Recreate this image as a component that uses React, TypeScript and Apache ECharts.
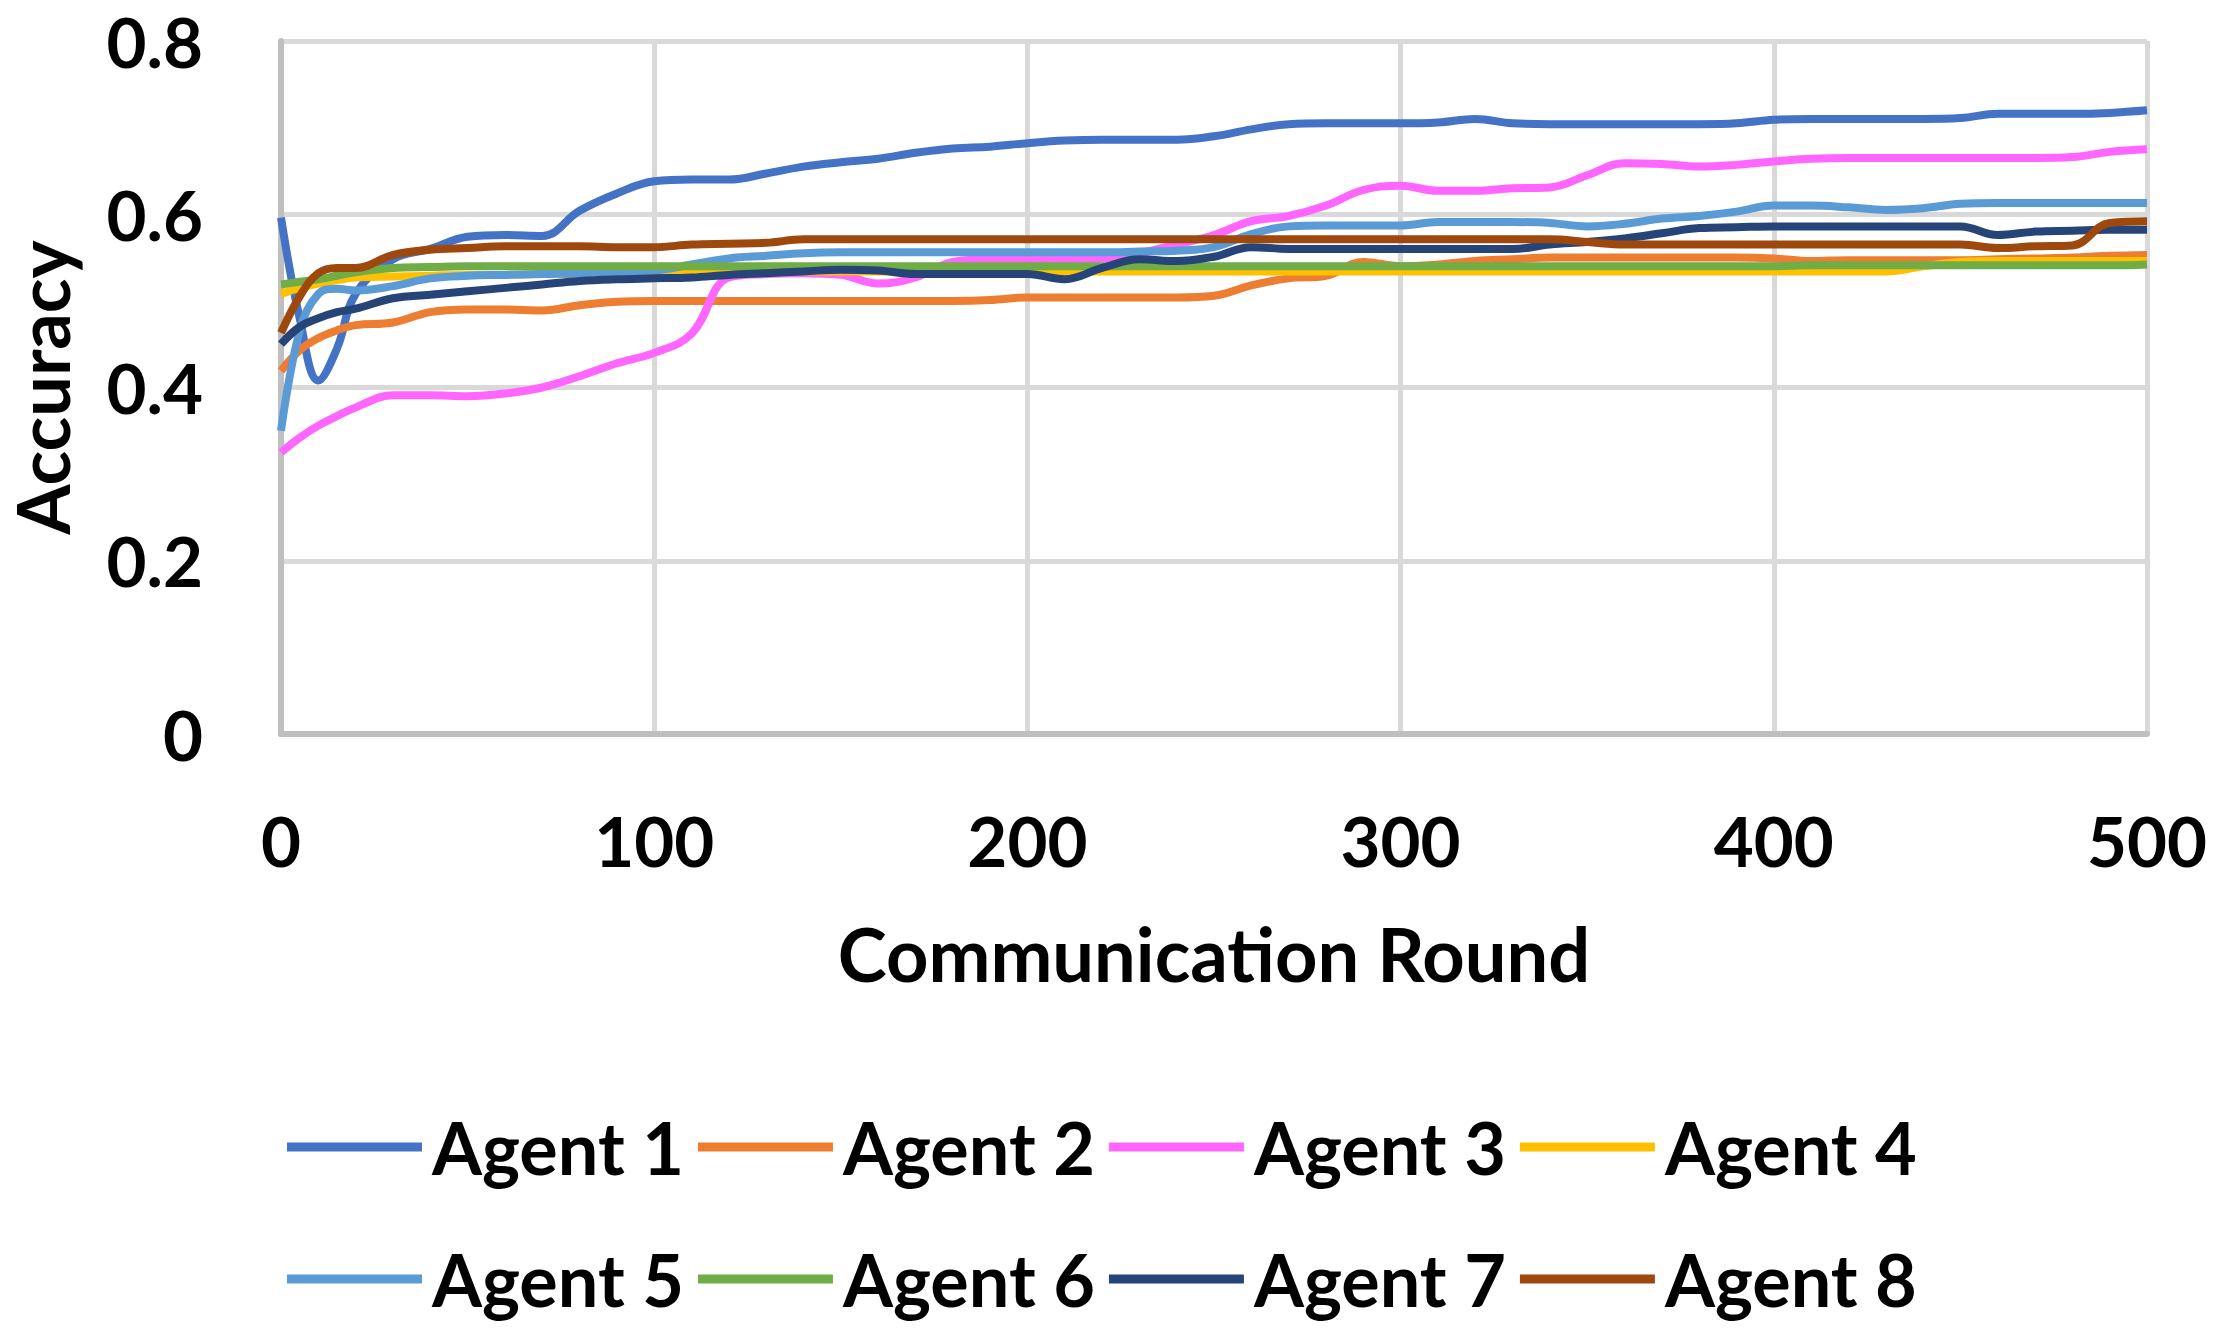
import React, { useEffect, useRef } from "react";
import * as echarts from "echarts";

const rounds = [0, 5, 10, 15, 20, 30, 40, 50, 60, 70, 80, 90, 100, 110, 120, 130, 140, 150, 160, 170, 180, 190, 200, 210, 220, 230, 240, 250, 260, 270, 280, 290, 300, 310, 320, 330, 340, 350, 360, 370, 380, 390, 400, 410, 420, 430, 440, 450, 460, 470, 480, 490, 500];

const agent1 = [0.596, 0.48, 0.408, 0.445, 0.508, 0.548, 0.56, 0.574, 0.576, 0.575, 0.604, 0.624, 0.638, 0.64, 0.64, 0.647, 0.655, 0.66, 0.664, 0.671, 0.676, 0.678, 0.682, 0.685, 0.686, 0.686, 0.686, 0.69, 0.698, 0.704, 0.705, 0.705, 0.705, 0.706, 0.71, 0.705, 0.704, 0.704, 0.704, 0.704, 0.704, 0.705, 0.709, 0.71, 0.71, 0.71, 0.71, 0.711, 0.716, 0.716, 0.716, 0.717, 0.72];
const agent2 = [0.419, 0.443, 0.457, 0.466, 0.472, 0.475, 0.487, 0.49, 0.49, 0.489, 0.495, 0.499, 0.5, 0.5, 0.5, 0.5, 0.5, 0.5, 0.5, 0.5, 0.5, 0.501, 0.504, 0.504, 0.504, 0.504, 0.504, 0.506, 0.518, 0.526, 0.529, 0.545, 0.54, 0.542, 0.546, 0.548, 0.55, 0.55, 0.55, 0.55, 0.55, 0.55, 0.549, 0.546, 0.547, 0.547, 0.547, 0.547, 0.548, 0.549, 0.55, 0.552, 0.553];
const agent3 = [0.325, 0.342, 0.356, 0.367, 0.377, 0.391, 0.391, 0.39, 0.393, 0.4, 0.413, 0.428, 0.44, 0.462, 0.527, 0.531, 0.532, 0.53, 0.52, 0.527, 0.545, 0.548, 0.548, 0.548, 0.549, 0.555, 0.565, 0.576, 0.592, 0.598, 0.61, 0.628, 0.633, 0.627, 0.627, 0.63, 0.631, 0.645, 0.659, 0.658, 0.655, 0.657, 0.661, 0.664, 0.665, 0.665, 0.665, 0.665, 0.665, 0.665, 0.666, 0.672, 0.675];
const agent4 = [0.508, 0.515, 0.52, 0.524, 0.527, 0.528, 0.529, 0.53, 0.53, 0.531, 0.531, 0.532, 0.533, 0.534, 0.534, 0.534, 0.534, 0.534, 0.534, 0.534, 0.534, 0.534, 0.534, 0.534, 0.534, 0.534, 0.534, 0.534, 0.534, 0.534, 0.534, 0.534, 0.534, 0.534, 0.534, 0.534, 0.534, 0.534, 0.534, 0.534, 0.534, 0.534, 0.534, 0.534, 0.534, 0.534, 0.54, 0.545, 0.546, 0.546, 0.546, 0.546, 0.546];
const agent5 = [0.35, 0.465, 0.508, 0.514, 0.512, 0.517, 0.526, 0.529, 0.53, 0.531, 0.532, 0.534, 0.535, 0.542, 0.549, 0.552, 0.555, 0.556, 0.556, 0.556, 0.556, 0.556, 0.556, 0.556, 0.556, 0.557, 0.558, 0.562, 0.577, 0.586, 0.587, 0.587, 0.587, 0.591, 0.591, 0.591, 0.59, 0.586, 0.589, 0.595, 0.598, 0.603, 0.61, 0.61, 0.608, 0.605, 0.607, 0.612, 0.613, 0.613, 0.613, 0.613, 0.613];
const agent6 = [0.519, 0.522, 0.525, 0.529, 0.533, 0.538, 0.539, 0.54, 0.54, 0.54, 0.54, 0.54, 0.54, 0.54, 0.54, 0.54, 0.54, 0.54, 0.54, 0.54, 0.54, 0.54, 0.54, 0.54, 0.54, 0.54, 0.54, 0.54, 0.54, 0.54, 0.54, 0.54, 0.54, 0.54, 0.54, 0.54, 0.54, 0.54, 0.54, 0.54, 0.54, 0.54, 0.54, 0.541, 0.541, 0.541, 0.541, 0.541, 0.541, 0.541, 0.541, 0.541, 0.542];
const agent7 = [0.45, 0.47, 0.48, 0.487, 0.491, 0.503, 0.507, 0.511, 0.515, 0.519, 0.523, 0.525, 0.526, 0.527, 0.53, 0.532, 0.534, 0.536, 0.535, 0.531, 0.531, 0.531, 0.531, 0.525, 0.538, 0.548, 0.546, 0.551, 0.562, 0.56, 0.56, 0.56, 0.56, 0.56, 0.56, 0.56, 0.565, 0.568, 0.572, 0.578, 0.584, 0.585, 0.586, 0.586, 0.586, 0.586, 0.586, 0.586, 0.576, 0.58, 0.581, 0.582, 0.582];
const agent8 = [0.463, 0.505, 0.532, 0.538, 0.538, 0.553, 0.559, 0.561, 0.563, 0.563, 0.563, 0.562, 0.562, 0.565, 0.566, 0.567, 0.571, 0.571, 0.571, 0.571, 0.571, 0.571, 0.571, 0.571, 0.571, 0.571, 0.571, 0.571, 0.571, 0.571, 0.571, 0.571, 0.571, 0.571, 0.571, 0.571, 0.571, 0.568, 0.565, 0.565, 0.565, 0.565, 0.565, 0.565, 0.565, 0.565, 0.565, 0.565, 0.561, 0.563, 0.564, 0.59, 0.592];

const seriesNames = ["Agent 1", "Agent 2", "Agent 3", "Agent 4", "Agent 5", "Agent 6", "Agent 7", "Agent 8"];
const seriesValues = [agent1, agent2, agent3, agent4, agent5, agent6, agent7, agent8];
const seriesColors = ["#4472C4", "#ED7D31", "#FF66FF", "#FFC000", "#5B9BD5", "#70AD47", "#264478", "#9E480E"];

const xTitle = "Communication Round";
const yTitle = "Accuracy";

const FONT = "Lato";

export default function App() {
  const ref = useRef<HTMLDivElement>(null);
  useEffect(() => {
    if (!ref.current) return;
    const chart = echarts.init(ref.current, undefined, { renderer: "svg" });
    const textBase = { fontFamily: FONT, fontWeight: "bold" as const, fontSize: 72, color: "#000" };
    const tickText = { ...textBase, fontSize: 69, lineHeight: 52 };
    const legendCommon = {
      icon: "rect",
      itemWidth: 135,
      itemHeight: 9,
      itemGap: 14,
      padding: 0,
      textStyle: { ...textBase, padding: [0, 0, 0, 5] },
      left: 287,
    };
    chart.setOption({
      animation: false,
      backgroundColor: "#fff",
      grid: {
        left: 281,
        right: 66,
        top: 41,
        bottom: 597,
        containLabel: false,
        outerBoundsMode: "none",
      },
      xAxis: {
        type: "value",
        min: 0,
        max: 500,
        interval: 100,
        name: xTitle,
        nameLocation: "middle",
        nameGap: 182,
        nameTextStyle: { ...textBase, fontSize: 74 },
        axisLine: { show: true, lineStyle: { color: "#BFBFBF", width: 6 } },
        axisTick: { show: false },
        axisLabel: { ...tickText, margin: 80 },
        splitLine: { show: true, lineStyle: { color: "#D9D9D9", width: 5 } },
      },
      yAxis: {
        type: "value",
        min: 0,
        max: 0.8,
        interval: 0.2,
        name: yTitle,
        nameLocation: "middle",
        nameRotate: 90,
        nameGap: 209,
        nameTextStyle: { ...textBase, lineHeight: 60 },
        axisLine: { show: true, lineStyle: { color: "#BFBFBF", width: 6 } },
        axisTick: { show: false },
        axisLabel: {
          ...tickText,
          margin: 78,
          formatter: (v: number) => (v === 0 ? "0" : v.toFixed(1)),
        },
        splitLine: { show: true, lineStyle: { color: "#D9D9D9", width: 5 } },
      },
      legend: [
        { ...legendCommon, top: 1111, data: seriesNames.slice(0, 4) },
        { ...legendCommon, top: 1243, data: seriesNames.slice(4, 8) },
      ],
      series: seriesNames.map((name, i) => ({
        name,
        type: "line",
        smooth: 0.4,
        showSymbol: false,
        symbol: "none",
        color: seriesColors[i],
        lineStyle: { width: 8, color: seriesColors[i] },
        data: rounds.map((r, j) => [r, seriesValues[i][j]]),
      })),
    });
    return () => chart.dispose();
  }, []);
  return (
    <div
      ref={ref}
      style={{ position: "fixed", left: 0, top: 0, width: "2213px", height: "1331px" }}
    />
  );
}
